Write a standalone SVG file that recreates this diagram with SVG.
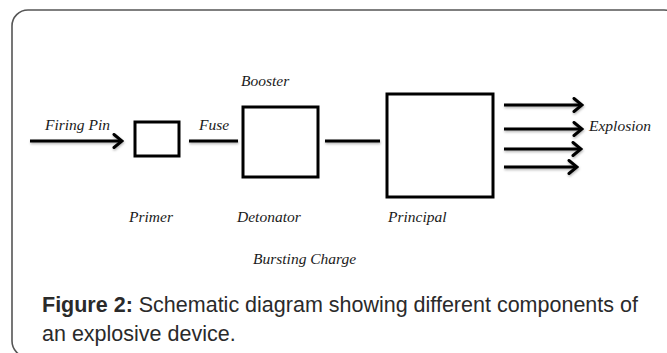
<svg xmlns="http://www.w3.org/2000/svg" width="667" height="353" viewBox="0 0 667 353">
  <style>
    .lbl { font-family: "Liberation Serif", "DejaVu Serif", serif; font-style: italic; font-size: 15.5px; fill: #1a1a1a; }
    .box { fill: #ffffff; stroke: #000000; stroke-width: 3; }
    .wire { fill: none; stroke: #000000; stroke-width: 3.2; stroke-linecap: butt; }
    .cap { font-family: "Liberation Sans", Arial, sans-serif; font-size: 21.5px; fill: #2a2a2a; }
  </style>
  <defs>
    <marker id="chev" viewBox="0 0 12 16" refX="10" refY="8" markerWidth="12" markerHeight="16" markerUnits="userSpaceOnUse" orient="auto">
      <path d="M2,1.5 L10,8 L2,14.5" fill="none" stroke="#000" stroke-width="3" stroke-linecap="round" stroke-linejoin="miter"/>
    </marker>
    <filter id="soft" x="-10%" y="-50%" width="120%" height="200%">
      <feDropShadow dx="0.5" dy="1.5" stdDeviation="1.2" flood-color="#000" flood-opacity="0.3"/>
    </filter>
  </defs>

  <rect width="667" height="353" fill="#ffffff"/>
  <!-- figure frame -->
  <rect x="12" y="10" width="668" height="347" rx="16" ry="16" fill="none" stroke="#555555" stroke-width="1.6"/>

  <!-- connectors -->
  <g id="connectors" filter="url(#soft)">
    <line class="wire" x1="30" y1="141" x2="122" y2="141" marker-end="url(#chev)"/>
    <line class="wire" x1="189" y1="141" x2="238" y2="141"/>
    <line class="wire" x1="325" y1="141" x2="380" y2="141"/>
    <line class="wire" x1="504" y1="105" x2="582" y2="105" marker-end="url(#chev)"/>
    <line class="wire" x1="504" y1="129" x2="582" y2="129" marker-end="url(#chev)"/>
    <line class="wire" x1="504" y1="149" x2="581" y2="149" marker-end="url(#chev)"/>
    <line class="wire" x1="504" y1="167" x2="577" y2="167" marker-end="url(#chev)"/>
  </g>

  <!-- nodes -->
  <g id="primer">
    <rect class="box" x="135" y="122" width="44" height="34"/>
    <text class="lbl" x="129" y="222">Primer</text>
  </g>
  <g id="detonator">
    <rect class="box" x="243" y="107" width="75" height="70"/>
    <text class="lbl" x="241" y="86">Booster</text>
    <text class="lbl" x="237" y="222">Detonator</text>
  </g>
  <g id="principal">
    <rect class="box" x="387" y="94" width="106" height="103"/>
    <text class="lbl" x="388" y="222">Principal</text>
  </g>
  <g id="labels">
    <text class="lbl" x="45" y="130">Firing Pin</text>
    <text class="lbl" x="199" y="130">Fuse</text>
    <text class="lbl" x="589" y="131">Explosion</text>
    <text class="lbl" x="253" y="264">Bursting Charge</text>
  </g>

  <!-- caption -->
  <g id="caption">
    <text class="cap" x="42" y="312"><tspan font-weight="bold">Figure 2:</tspan> Schematic diagram showing different components of</text>
    <text class="cap" x="42" y="341">an explosive device.</text>
  </g>
</svg>
